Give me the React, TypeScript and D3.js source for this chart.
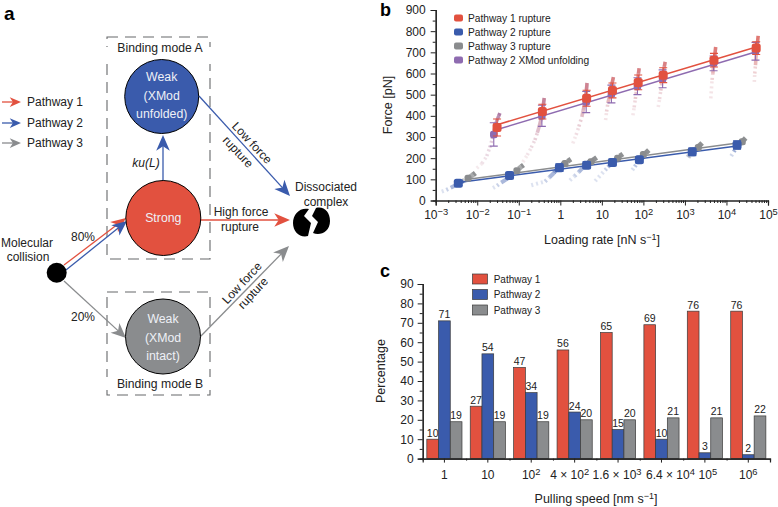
import { useEffect, useRef } from 'react';
import * as d3 from 'd3';

const FONT = '"Liberation Sans", Arial, sans-serif';
const RED = '#e2513f';
const BLUE = '#3a5bac';
const GRAY = '#8a8c8e';
const PURPLE = '#8e6bb0';
const INK = '#222';

// panel b: means, spreads and fitted lines, [loading rate, force]
const redMeans = [[0.03, 345], [0.37, 420], [4.3, 483], [18, 520], [75, 558], [300, 592], [5000, 663], [52000, 720]];
const redErrors = [40, 35, 38, 35, 35, 35, 32, 30];
const purpleMeans = [[0.025, 312], [0.36, 400], [4.2, 465], [17, 503], [72, 540], [290, 575], [4900, 648], [50000, 705]];
const purpleErrors = [55, 50, 50, 42, 40, 42, 35, 42];
const blueMeans = [[0.0035, 82], [0.06, 118], [0.95, 155], [4.3, 167], [18, 180], [80, 193], [1500, 230], [18000, 262]];
const blueErrors = [12, 15, 18, 16, 16, 15, 18, 20];
const grayMeans = [[0.006, 105], [0.09, 140], [1.3, 175], [5.5, 183], [24, 200], [100, 217], [2100, 250], [24000, 278]];

const redLine = [[0.03, 358], [52000, 725]];
const purpleLine = [[0.03, 335], [52000, 703]];
const blueLine = [[0.0035, 85], [18000, 258]];
const grayLine = [[0.006, 100], [25000, 275]];

// rupture clouds, each listed from the faint tail to the dense top
const upperClouds = [
  [[0.0098, 153], [0.013, 175], [0.017, 210], [0.02, 250], [0.023, 290], [0.025, 320], [0.027, 350], [0.03, 380], [0.033, 400], [0.035, 413]],
  [[0.126, 182], [0.16, 215], [0.2, 250], [0.245, 286], [0.28, 320], [0.31, 350], [0.34, 380], [0.37, 420], [0.39, 450], [0.41, 484]],
  [[2, 270], [2.4, 310], [2.8, 350], [3.3, 395], [3.6, 430], [3.9, 470], [4.2, 510], [4.4, 555]],
  [[12.3, 380], [13, 420], [14, 460], [15.5, 500], [17, 540], [19, 583]],
  [[56, 403], [60, 440], [64, 480], [68, 520], [72, 560], [76, 600], [79, 625]],
  [[228, 442], [245, 480], [262, 520], [280, 560], [300, 600], [320, 635], [335, 655]],
  [[4200, 483], [4500, 570], [4700, 600], [4900, 640], [5200, 680], [5500, 725]],
  [[46800, 560], [48000, 600], [50000, 640], [52000, 690], [55000, 735], [58000, 778]],
];
const xmodShare = [0.9, 0.7, 0.6, 0.45, 0.45, 0.45, 0.35, 0.3];
const blueClouds = [
  [[0.0014, 42], [0.0018, 50], [0.0023, 60], [0.003, 72], [0.0038, 85], [0.0047, 92]],
  [[0.024, 59], [0.03, 70], [0.038, 85], [0.05, 100], [0.06, 112], [0.072, 125]],
  [[0.2, 72], [0.43, 90], [0.55, 110], [0.7, 130], [0.9, 155], [1.2, 177]],
  [[1.7, 95], [2.2, 115], [2.8, 135], [3.5, 155], [4.2, 170], [5, 185]],
  [[6.9, 92], [12, 144], [14, 158], [17, 175], [20, 190], [23, 200]],
  [[54, 144], [62, 160], [72, 178], [85, 192], [100, 205]],
  [[1150, 205], [1300, 220], [1500, 235], [1700, 245]],
  [[13000, 210], [15000, 230], [18000, 255], [21000, 270]],
];
const grayClouds = [
  [[0.0045, 92], [0.0055, 100], [0.0065, 110], [0.008, 122], [0.009, 130]],
  [[0.07, 125], [0.085, 138], [0.1, 150], [0.115, 160], [0.13, 168]],
  [[1.0, 160], [1.2, 172], [1.5, 185], [1.8, 195]],
  [[4.3, 165], [5, 178], [6, 190], [7.5, 203]],
  [[18, 180], [22, 195], [27, 210], [32, 220]],
  [[80, 195], [95, 210], [115, 225], [135, 238]],
  [[1200, 205], [1500, 225], [1800, 240], [2200, 258], [2600, 272]],
  [[18000, 245], [21000, 265], [25000, 282], [29000, 295]],
];
const legendB = ['Pathway 1 rupture', 'Pathway 2 rupture', 'Pathway 3 rupture', 'Pathway 2 XMod unfolding'];

// panel c
const speeds = [
  ['1', ''], ['10', ''], ['10', '2'], ['4 × 10', '2'], ['1.6 × 10', '3'], ['6.4 × 10', '4'], ['10', '5'], ['10', '6'],
];
const pathway1 = [10, 27, 47, 56, 65, 69, 76, 76];
const pathway2 = [71, 54, 34, 24, 15, 10, 3, 2];
const pathway3 = [19, 19, 19, 20, 20, 21, 21, 22];
const legendC = ['Pathway 1', 'Pathway 2', 'Pathway 3'];

function addText(g: any, x: number, y: number, s: string, size = 12, anchor = 'middle', fill = INK) {
  return g.append('text').attr('x', x).attr('y', y).attr('font-size', size)
    .attr('text-anchor', anchor).attr('fill', fill).text(s);
}

function addSup(text: any, base: string, exp: string) {
  text.text(null);
  text.append('tspan').text(base);
  if (exp) text.append('tspan').attr('dy', '-0.42em').attr('font-size', '0.78em').text(exp);
}

function arrow(g: any, x1: number, y1: number, x2: number, y2: number, color: string, size = 1) {
  const a = Math.atan2(y2 - y1, x2 - x1);
  const len = 15 * size;
  g.append('line').attr('x1', x1).attr('y1', y1)
    .attr('x2', x2 - Math.cos(a) * len * 0.7).attr('y2', y2 - Math.sin(a) * len * 0.7)
    .attr('stroke', color).attr('stroke-width', 1.3);
  g.append('path')
    .attr('d', `M0,0 L${-len},${-6.5 * size} L${-len * 0.72},0 L${-len},${6.5 * size} Z`)
    .attr('transform', `translate(${x2},${y2}) rotate(${(a * 180) / Math.PI})`)
    .attr('fill', color);
}

function drawPanelA(svg: any) {
  const g = svg.append('g');
  addText(g, 4, 20, 'a', 19, 'start', '#000').attr('font-weight', 700);

  // binding mode boxes
  [[107, 37, 103, 222], [107, 292, 103, 103]].forEach(([x, y, w, h]) => {
    g.append('rect').attr('x', x).attr('y', y).attr('width', w).attr('height', h)
      .attr('fill', 'none').attr('stroke', '#66686a').attr('stroke-width', 1.1)
      .attr('stroke-dasharray', '11,7');
  });
  g.append('rect').attr('x', 100).attr('y', 47).attr('width', 118).attr('height', 17).attr('fill', '#fff');
  g.append('rect').attr('x', 100).attr('y', 377).attr('width', 118).attr('height', 13).attr('fill', '#fff');
  addText(g, 160, 52, 'Binding mode A', 12.2);
  addText(g, 160, 388, 'Binding mode B', 12.2);

  // pathway legend
  [[RED, 'Pathway 1', 102], [BLUE, 'Pathway 2', 123], [GRAY, 'Pathway 3', 143]].forEach(([c, s, y]: any) => {
    arrow(g, 2, y, 21, y, c, 0.75);
    addText(g, 27, y + 4, s, 12, 'start');
  });

  // arrows sit under the states
  arrow(g, 64, 265, 126, 218, RED);
  arrow(g, 66, 270, 127, 221, BLUE);
  arrow(g, 64, 281, 126, 338, GRAY);
  arrow(g, 163, 182, 163, 135, BLUE, 1.05);
  arrow(g, 199, 96, 290, 196, BLUE, 1.05);
  arrow(g, 200, 220, 290, 220, RED, 1.05);
  arrow(g, 200, 337, 289, 246, GRAY, 1.05);

  // states
  [
    [161.7, 96.5, 37, BLUE, ['Weak', '(XMod', 'unfolded)'], [81, 100, 118]],
    [163.3, 218, 37.5, RED, ['Strong'], [222]],
    [163, 336.5, 37.5, GRAY, ['Weak', '(XMod', 'intact)'], [323, 342, 360]],
  ].forEach(([cx, cy, r, c, lines, ys]: any) => {
    g.append('circle').attr('cx', cx).attr('cy', cy).attr('r', r)
      .attr('fill', c).attr('stroke', '#000').attr('stroke-width', 1);
    lines.forEach((s: string, i: number) => addText(g, cx, ys[i], s, 12.3, 'middle', '#eef0f6'));
  });
  g.append('circle').attr('cx', 56.7).attr('cy', 272.7).attr('r', 10).attr('fill', '#000');

  // dissociated complex icon
  g.append('path').attr('fill', '#000')
    .attr('d', 'M309 209 L304 216 L311 223 L308 236 C300 238 293 232 293 223 C293 214 300 207 309 209 Z');
  g.append('path').attr('fill', '#000')
    .attr('d', 'M316 208 L312 216 L318 222 L313 233 C320 236 330 232 330 221 C330 212 324 206 316 208 Z');

  addText(g, 27, 247, 'Molecular');
  addText(g, 28, 261, 'collision');
  addText(g, 83, 241, '80%');
  addText(g, 83, 321, '20%');
  addText(g, 146, 167, 'ku(L)').attr('font-style', 'italic');
  addText(g, 326, 191, 'Dissociated');
  addText(g, 326, 206, 'complex');
  addText(g, 241, 216, 'High force');
  addText(g, 240, 231, 'rupture');
  [
    [252, 143, 47, 'Low force'], [238, 152, 47, 'rupture'],
    [242, 283, -47, 'Low force'], [253, 293, -47, 'rupture'],
  ].forEach(([x, y, rot, s]: any) => {
    addText(g, 0, 4, s).attr('transform', `translate(${x},${y}) rotate(${rot})`);
  });
}

function drawPanelB(svg: any) {
  const g = svg.append('g');
  const x = d3.scaleLog().domain([1e-3, 1e5]).range([435.7, 768]);
  const y = d3.scaleLinear().domain([0, 900]).range([200.5, 10]);
  addText(g, 380, 16, 'b', 18, 'start', '#000').attr('font-weight', 700);

  // clouds: joined readings, broken up and fading towards the tail
  const fade = (i: number, n: number, lo: number, hi: number) => lo + (hi - lo) * ((i / (n - 1)) ** 1.7);
  const cloud = (pts: number[][], color: string, lo: number, hi: number, s = 3.5) => {
    const c = g.append('g').attr('stroke', color).attr('stroke-width', s);
    pts.slice(1).forEach((d, i) => {
      c.append('line')
        .attr('x1', x(pts[i][0])).attr('y1', y(pts[i][1]))
        .attr('x2', x(d[0])).attr('y2', y(d[1]))
        .attr('stroke-dasharray', i < pts.length / 3 ? '2,3' : null)
        .attr('opacity', fade(i + 1, pts.length, lo, hi));
    });
  };
  upperClouds.forEach((pts, k) => {
    cloud(pts, PURPLE, 0.05, 0.9 * xmodShare[k]);
    cloud(pts, RED, 0.06, 0.85 * (1 - xmodShare[k]) + 0.1);
  });
  blueClouds.forEach((pts) => cloud(pts, BLUE, 0.12, 0.85, 4));
  grayClouds.forEach((pts) => cloud(pts, GRAY, 0.35, 0.95, 5));

  // fitted lines
  const line = d3.line<number[]>().x((d) => x(d[0])).y((d) => y(d[1]));
  [[purpleLine, PURPLE], [redLine, RED], [grayLine, GRAY], [blueLine, BLUE]].forEach(([pts, c]: any) => {
    g.append('path').attr('d', line(pts)).attr('fill', 'none').attr('stroke', c).attr('stroke-width', 1.5);
  });

  // error bars and mean markers
  const errorBars = (pts: number[][], errs: number[], c: string) => {
    pts.forEach((d, i) => {
      const px = x(d[0]);
      const y0 = y(d[1] - errs[i]);
      const y1 = y(d[1] + errs[i]);
      g.append('path').attr('d', `M${px - 4},${y0}H${px + 4}M${px - 4},${y1}H${px + 4}M${px},${y0}V${y1}`)
        .attr('fill', 'none').attr('stroke', c).attr('stroke-width', 1.1);
    });
  };
  const marks = (pts: number[][], c: string, s: number) => {
    g.append('g').selectAll('rect').data(pts).enter().append('rect')
      .attr('x', (d: number[]) => x(d[0]) - s / 2)
      .attr('y', (d: number[]) => y(d[1]) - s / 2)
      .attr('width', s).attr('height', s).attr('rx', 2.5).attr('fill', c);
  };
  marks(grayMeans, GRAY, 7);
  errorBars(blueMeans, blueErrors, BLUE);
  marks(blueMeans, BLUE, 9);
  errorBars(purpleMeans, purpleErrors, PURPLE);
  marks(purpleMeans, PURPLE, 7.5);
  errorBars(redMeans, redErrors, RED);
  marks(redMeans, RED, 9);

  // axes
  const yAxis = g.append('g').attr('transform', 'translate(435.7,0)')
    .call(d3.axisLeft(y).tickValues(d3.range(0, 901, 100)).tickSize(5).tickPadding(5));
  g.append('g').attr('transform', 'translate(435.7,0)')
    .call(d3.axisLeft(y).tickValues(d3.range(50, 900, 100)).tickSize(3).tickFormat(() => ''));
  const decades = d3.range(-3, 6);
  const minor = decades.slice(0, -1).flatMap((e) => d3.range(2, 10).map((m) => m * 10 ** e));
  const xAxis = g.append('g').attr('transform', 'translate(0,200.5)')
    .call(d3.axisBottom(x).tickValues(decades.map((e) => 10 ** e)).tickSize(5).tickPadding(5).tickFormat(() => ''));
  g.append('g').attr('transform', 'translate(0,200.5)')
    .call(d3.axisBottom(x).tickValues(minor).tickSize(2.5).tickFormat(() => ''));
  xAxis.selectAll('.tick text').each(function (this: any, _: any, i: number) {
    const e = decades[i];
    if (e === 0) addSup(d3.select(this), '1', '');
    else if (e === 1) addSup(d3.select(this), '10', '');
    else addSup(d3.select(this), '10', String(e).replace('-', '−'));
  });
  [yAxis, xAxis].forEach((a) => a.selectAll('text').attr('font-size', 12).attr('font-family', FONT).attr('fill', INK));

  const title = addText(g, 602, 244, '', 12.5);
  title.append('tspan').text('Loading rate [nN s');
  title.append('tspan').attr('dy', '-0.4em').attr('font-size', '0.72em').text('−1');
  title.append('tspan').attr('dy', '0.3em').text(']');
  addText(g, 0, 0, 'Force [pN]', 12.5).attr('transform', 'translate(392,105) rotate(-90)');

  // legend
  [RED, BLUE, GRAY, PURPLE].forEach((c, i) => {
    const ly = 18 + i * 14;
    g.append('rect').attr('x', 454).attr('y', ly - 3.5).attr('width', 9).attr('height', 7).attr('rx', 2).attr('fill', c);
    addText(g, 468, ly + 3.5, legendB[i], 10.2, 'start');
  });
}

function drawPanelC(svg: any) {
  const g = svg.append('g');
  const idx = speeds.map((_, i) => i);
  const x = d3.scaleBand<number>().domain(idx).range([422.7, 770]).paddingInner(0.19).paddingOuter(0.095);
  const sub = d3.scaleBand<number>().domain([0, 1, 2]).range([0, x.bandwidth()]);
  const y = d3.scaleLinear().domain([0, 90]).range([458.6, 284]);
  addText(g, 380, 277, 'c', 18, 'start', '#000').attr('font-weight', 700);

  const series = [[pathway1, RED], [pathway2, BLUE], [pathway3, GRAY]] as [number[], string][];
  series.forEach(([vals], s) => {
    g.append('g').selectAll('text').data(vals).enter().append('text')
      .attr('x', (_: number, i: number) => (x(i) as number) + (sub(s) as number) + sub.bandwidth() / 2)
      .attr('y', (d: number) => y(d) - 2.5)
      .attr('text-anchor', 'middle').attr('font-size', 10.5).attr('fill', INK)
      .text((d: number) => d);
  });
  series.forEach(([vals, c], s) => {
    g.append('g').selectAll('rect').data(vals).enter().append('rect')
      .attr('x', (_: number, i: number) => (x(i) as number) + (sub(s) as number))
      .attr('y', (d: number) => y(d))
      .attr('width', sub.bandwidth())
      .attr('height', (d: number) => y(0) - y(d))
      .attr('fill', c).attr('stroke', '#3a3a3a').attr('stroke-width', 0.7);
  });

  const yAxis = g.append('g').attr('transform', 'translate(422.7,0)')
    .call(d3.axisLeft(y).tickValues(d3.range(0, 91, 10)).tickSize(5).tickPadding(4));
  g.append('g').attr('transform', 'translate(422.7,0)')
    .call(d3.axisLeft(y).tickValues(d3.range(5, 90, 10)).tickSize(3).tickFormat(() => ''));
  yAxis.selectAll('text').attr('font-size', 12).attr('font-family', FONT).attr('fill', INK);

  const centers = d3.scaleBand<number>().domain(idx).range([422.7, 770]);
  const xAxis = g.append('g').attr('transform', 'translate(0,458.6)')
    .call(d3.axisBottom(centers).tickSize(4).tickPadding(8).tickFormat(() => ''));
  g.append('g').attr('transform', 'translate(0,458.6)')
    .call(d3.axisBottom(d3.scaleLinear().domain([0, 8]).range([422.7, 770])).tickValues(d3.range(1, 8)).tickSize(2).tickFormat(() => ''));
  const labelNudge = [0, 0, 0, -5, -1, 9, 3, 0]; // the crowded labels are pushed apart
  xAxis.selectAll('.tick text').each(function (this: any, _: any, i: number) {
    addSup(d3.select(this).attr('dx', labelNudge[i]), speeds[i][0], speeds[i][1]);
  });
  xAxis.selectAll('text').attr('font-size', 12).attr('font-family', FONT).attr('fill', INK);

  const title = addText(g, 596, 503, '', 12.5);
  title.append('tspan').text('Pulling speed [nm s');
  title.append('tspan').attr('dy', '-0.4em').attr('font-size', '0.72em').text('−1');
  title.append('tspan').attr('dy', '0.3em').text(']');
  addText(g, 0, 0, 'Percentage', 12.5).attr('transform', 'translate(385,371) rotate(-90)');

  [RED, BLUE, GRAY].forEach((c, i) => {
    const ly = 279 + i * 15.5;
    g.append('rect').attr('x', 472.5).attr('y', ly - 5).attr('width', 15).attr('height', 10)
      .attr('fill', c).attr('stroke', '#3a3a3a').attr('stroke-width', 0.7);
    addText(g, 493.7, ly + 3.5, legendC[i], 10, 'start');
  });
}

export default function App() {
  const svgRef = useRef<SVGSVGElement>(null);

  useEffect(() => {
    if (!svgRef.current) return;
    const svg = d3.select(svgRef.current);
    svg.selectAll('*').remove();
    svg.attr('font-family', FONT);
    drawPanelA(svg);
    drawPanelB(svg);
    drawPanelC(svg);
    svg.selectAll('.domain').attr('stroke', INK).attr('stroke-width', 1.2);
    svg.selectAll('.tick line').attr('stroke', INK).attr('stroke-width', 1);
  }, []);

  return (
    <svg
      ref={svgRef}
      width={778}
      height={507}
      viewBox="0 0 778 507"
      style={{ position: 'absolute', left: 0, top: 0, background: '#fff' }}
    />
  );
}
